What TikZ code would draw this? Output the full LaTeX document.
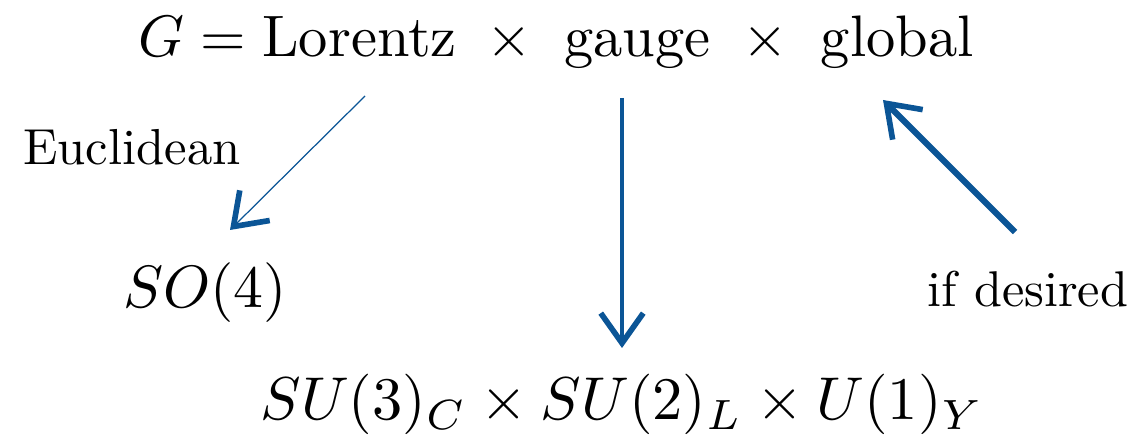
\documentclass[tikz,border=0pt]{standalone}
\usepackage{amsmath}
\usepackage{tikz}
\usetikzlibrary{arrows.meta}
\definecolor{arrowblue}{HTML}{0B5596}

\tikzset{
  barb/.style={arrowblue, -{Straight Barb[length=0.6cm, width=0.85cm, line width=3.2pt]}},
  grouptext/.style={anchor=base, inner sep=0pt}
}

\begin{document}
\begin{tikzpicture}
  \useasboundingbox (0,0) rectangle (22.76,8.84);
  % groups
  \node[grouptext, scale=3.33] (full) at (11.12,7.70)
    {$G = \text{Lorentz}\; \times \text{ gauge } \times \text{ global}$};
  \node[grouptext, scale=3.4] (so4) at (4.10,2.68) {$SO(4)$};
  \node[grouptext, scale=3.44] (sm) at (12.44,0.44)
    {$SU(3)_C \times SU(2)_L \times U(1)_Y$};
  % labels
  \node[grouptext, scale=2.88] (eucl) at (2.64,5.54) {Euclidean};
  \node[grouptext, scale=2.86] (desired) at (20.56,2.70) {if desired};
  % arrow ends
  \coordinate (eA) at (7.30,6.92);
  \coordinate (eB) at (4.60,4.24);
  \coordinate (mA) at (12.44,6.88);
  \coordinate (mB) at (12.44,1.88);
  \coordinate (rA) at (20.30,4.20);
  \coordinate (rB) at (17.66,6.84);
  \draw[barb, line width=0.7pt] (eA) -- (eB);
  \draw[barb, line width=2.8pt] (mA) -- (mB);
  \draw[barb, line width=3.6pt] (rA) -- (rB);
\end{tikzpicture}
\end{document}
